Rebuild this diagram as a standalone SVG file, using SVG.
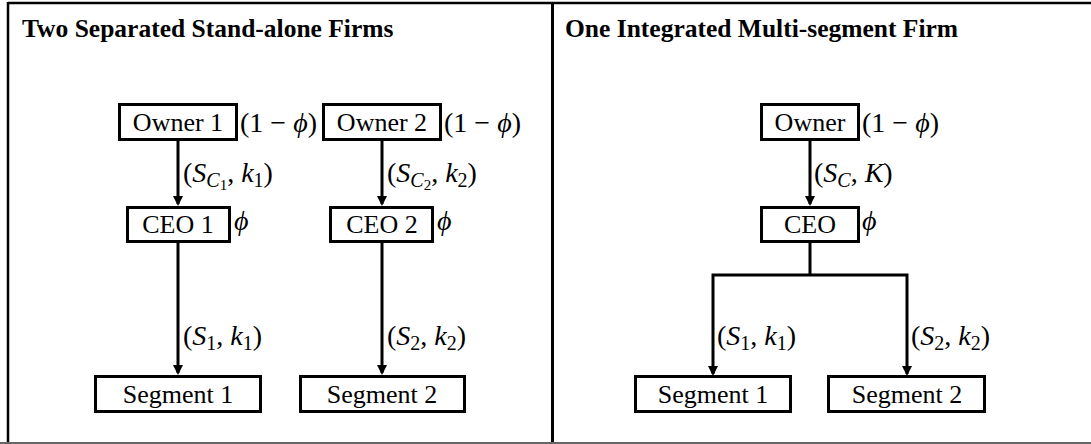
<svg xmlns="http://www.w3.org/2000/svg" width="1091" height="444" viewBox="0 0 1091 444">
  <style>
    .frame { stroke: #000; stroke-width: 2.5; fill: none; }
    .box { fill: #fff; stroke: #000; stroke-width: 3; }
    .node { font-family: "Liberation Serif", "Times New Roman", serif; font-size: 26px; fill: #000; text-anchor: middle; }
    .title { font-family: "Liberation Serif", "Times New Roman", serif; font-size: 25.5px; font-weight: bold; fill: #000; }
    .math { font-family: "Liberation Serif", "DejaVu Serif", serif; font-size: 28px; fill: #000; }
    .it { font-style: italic; }
    .sub { font-size: 20px; }
    .subsub { font-size: 15px; }
    .wire { stroke: #000; stroke-width: 3; fill: none; }
    .arrow { stroke: #000; stroke-width: 3; fill: none; marker-end: url(#head); }
  </style>
  <defs>
    <marker id="head" viewBox="0 0 10 12" refX="8" refY="6" markerWidth="10" markerHeight="12" markerUnits="userSpaceOnUse" orient="auto">
      <path d="M0,1 L10,6 L0,11 z" fill="#000"/>
    </marker>
  </defs>

  <rect width="1091" height="444" fill="#fff"/>

  <!-- outer frame and panel divider -->
  <g id="frame">
    <line class="frame" x1="8" y1="3" x2="1091" y2="3"/>
    <line class="frame" x1="8" y1="2" x2="8" y2="444"/>
    <line x1="552.5" y1="3" x2="552.5" y2="444" stroke="#000" stroke-width="3"/>
    <rect x="0" y="442" width="1091" height="2" fill="#666"/>
  </g>

  <text class="title" x="22" y="37">Two Separated Stand-alone Firms</text>
  <text class="title" x="565" y="37">One Integrated Multi-segment Firm</text>

  <!-- connectors -->
  <g id="connectors">
    <line class="arrow" x1="178" y1="141" x2="178" y2="204"/>
    <line class="arrow" x1="382" y1="141" x2="382" y2="204"/>
    <line class="arrow" x1="178" y1="243" x2="178" y2="373"/>
    <line class="arrow" x1="382" y1="243" x2="382" y2="373"/>
    <line class="arrow" x1="810" y1="141" x2="810" y2="204"/>
    <polyline class="wire" points="810,242 810,275"/>
    <polyline class="arrow" points="810,275 713,275 713,374"/>
    <polyline class="arrow" points="810,275 907,275 907,374"/>

    <text class="math" x="183" y="182">(<tspan class="it">S</tspan><tspan class="sub it" dy="5">C</tspan><tspan class="subsub" dy="3">1</tspan><tspan dy="-8">, </tspan><tspan class="it">k</tspan><tspan class="sub" dy="5">1</tspan><tspan dy="-5">)</tspan></text>
    <text class="math" x="387" y="182">(<tspan class="it">S</tspan><tspan class="sub it" dy="5">C</tspan><tspan class="subsub" dy="3">2</tspan><tspan dy="-8">, </tspan><tspan class="it">k</tspan><tspan class="sub" dy="5">2</tspan><tspan dy="-5">)</tspan></text>
    <text class="math" x="183" y="345">(<tspan class="it">S</tspan><tspan class="sub" dy="5">1</tspan><tspan dy="-5">, </tspan><tspan class="it">k</tspan><tspan class="sub" dy="5">1</tspan><tspan dy="-5">)</tspan></text>
    <text class="math" x="387" y="345">(<tspan class="it">S</tspan><tspan class="sub" dy="5">2</tspan><tspan dy="-5">, </tspan><tspan class="it">k</tspan><tspan class="sub" dy="5">2</tspan><tspan dy="-5">)</tspan></text>
    <text class="math" x="814" y="182">(<tspan class="it">S</tspan><tspan class="sub it" dy="5">C</tspan><tspan dy="-5">, </tspan><tspan class="it">K</tspan>)</text>
    <text class="math" x="717" y="345">(<tspan class="it">S</tspan><tspan class="sub" dy="5">1</tspan><tspan dy="-5">, </tspan><tspan class="it">k</tspan><tspan class="sub" dy="5">1</tspan><tspan dy="-5">)</tspan></text>
    <text class="math" x="911" y="345">(<tspan class="it">S</tspan><tspan class="sub" dy="5">2</tspan><tspan dy="-5">, </tspan><tspan class="it">k</tspan><tspan class="sub" dy="5">2</tspan><tspan dy="-5">)</tspan></text>
  </g>

  <!-- left panel: two stand-alone firms -->
  <g id="owner1">
    <rect class="box" x="119.5" y="104.5" width="117" height="35"/>
    <text class="node" x="178" y="131">Owner 1</text>
    <text class="math" x="240" y="132">(1 − <tspan class="it">ϕ</tspan>)</text>
  </g>
  <g id="owner2">
    <rect class="box" x="323.5" y="104.5" width="117" height="35"/>
    <text class="node" x="382" y="131">Owner 2</text>
    <text class="math" x="444" y="132">(1 − <tspan class="it">ϕ</tspan>)</text>
  </g>
  <g id="ceo1">
    <rect class="box" x="127.5" y="207.5" width="102" height="34"/>
    <text class="node" x="178" y="233">CEO 1</text>
    <text class="math it" x="234" y="230">ϕ</text>
  </g>
  <g id="ceo2">
    <rect class="box" x="330.5" y="207.5" width="102" height="34"/>
    <text class="node" x="382" y="233">CEO 2</text>
    <text class="math it" x="437" y="230">ϕ</text>
  </g>
  <g id="segment1-left">
    <rect class="box" x="95.5" y="376.5" width="165" height="35"/>
    <text class="node" x="178" y="403">Segment 1</text>
  </g>
  <g id="segment2-left">
    <rect class="box" x="300.5" y="376.5" width="164" height="35"/>
    <text class="node" x="382" y="403">Segment 2</text>
  </g>

  <!-- right panel: one integrated firm -->
  <g id="owner">
    <rect class="box" x="761.5" y="104.5" width="97" height="35"/>
    <text class="node" x="810" y="131">Owner</text>
    <text class="math" x="862" y="132">(1 − <tspan class="it">ϕ</tspan>)</text>
  </g>
  <g id="ceo">
    <rect class="box" x="761.5" y="207.5" width="97" height="34"/>
    <text class="node" x="810" y="233">CEO</text>
    <text class="math it" x="862" y="230">ϕ</text>
  </g>
  <g id="segment1-right">
    <rect class="box" x="635.5" y="376.5" width="155" height="35"/>
    <text class="node" x="713" y="403">Segment 1</text>
  </g>
  <g id="segment2-right">
    <rect class="box" x="828.5" y="376.5" width="156" height="35"/>
    <text class="node" x="907" y="403">Segment 2</text>
  </g>
</svg>
